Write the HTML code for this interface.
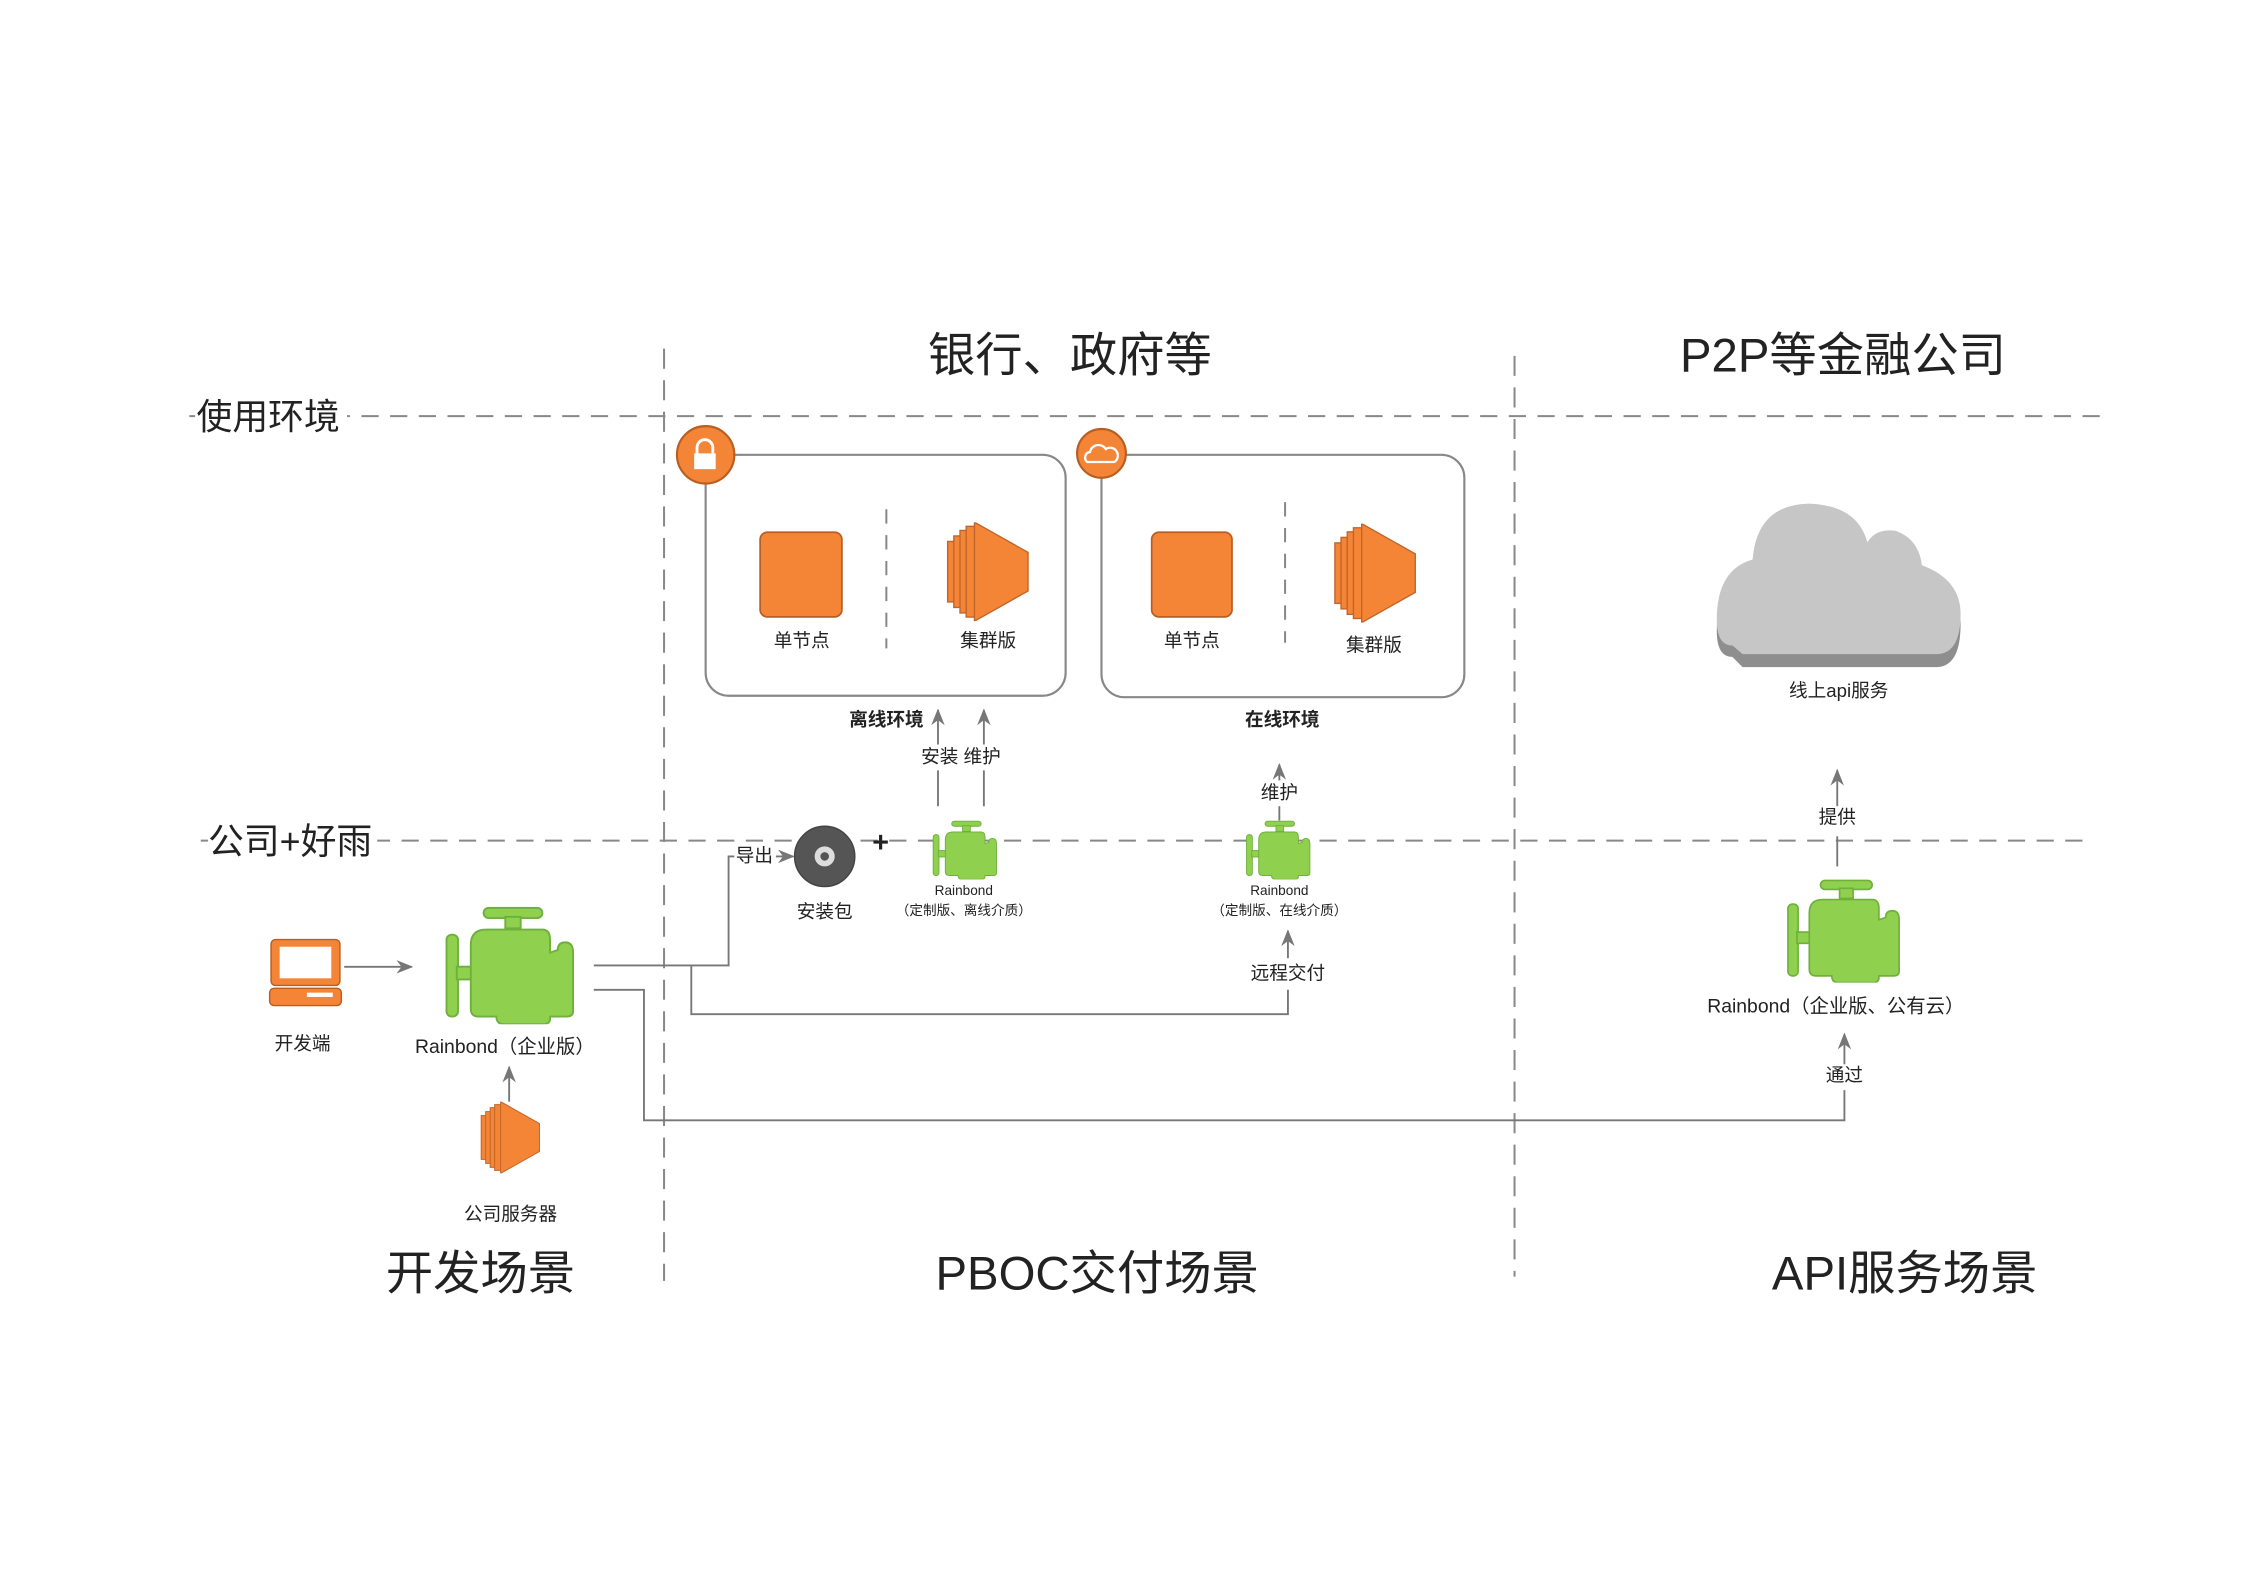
<!DOCTYPE html>
<html><head><meta charset="utf-8"><style>
html,body{margin:0;padding:0;background:#fff}
svg{display:block}
text{font-family:"Liberation Sans","Noto Sans CJK SC",sans-serif;fill:#222}
</style></head><body>
<svg width="2246" height="1588" viewBox="0 0 1566 1107" xmlns="http://www.w3.org/2000/svg">
<defs>
<symbol id="eng" viewBox="0 0 100 92">
 <g fill="#8fd14f" stroke="#6fb03c" stroke-width="1.5">
  <rect x="30" y="1" width="46" height="8" rx="4"/>
  <rect x="47" y="8" width="12" height="9"/>
  <rect x="1" y="22" width="9" height="64" rx="4"/>
  <rect x="9" y="47" width="12" height="10"/>
  <path d="M20,30 Q20,18 32,18 L76,18 Q82,18 82,26 L82,36 L88,34 Q88,28 94,28 Q100,28 100,36 L100,82 Q100,86 95,86 L82,86 L82,88 Q82,92 76,92 L46,92 Q40,92 40,86 L26,86 Q20,86 20,80 Z"/>
 </g>
</symbol>
<symbol id="clu" viewBox="0 0 60 72">
 <g fill="#f58536" stroke="#c0652a" stroke-width="1">
  <rect x="0.5" y="14" width="8" height="44"/>
  <rect x="5" y="10" width="8" height="52"/>
  <rect x="9.5" y="6" width="8" height="60"/>
  <rect x="14" y="3" width="8" height="66"/>
  <path d="M20,0 L59,22 L59,50 L20,72 Z"/>
 </g>
</symbol>
<marker id="ar" viewBox="0 0 10 10" refX="9" refY="5" markerWidth="9" markerHeight="9" orient="auto-start-reverse">
 <path d="M0,1 L10,5 L0,9 L3,5 Z" fill="#777"/>
</marker>
</defs>

<g stroke="#888" stroke-width="1.4" stroke-dasharray="12,8" fill="none">
 <line x1="132" y1="290" x2="1466" y2="290"/>
 <line x1="140" y1="586" x2="1460" y2="586"/>
 <line x1="463" y1="243" x2="463" y2="893" stroke-dasharray="14,8"/>
 <line x1="1056" y1="248" x2="1056" y2="890" stroke-dasharray="14,8"/>
 <line x1="618" y1="355" x2="618" y2="452" stroke-dasharray="10,8"/>
 <line x1="896" y1="350" x2="896" y2="448" stroke-dasharray="10,8"/>
</g>
<rect x="136" y="272" width="106" height="34" fill="#fff"/>
<text x="137" y="299" font-size="25">使用环境</text>
<rect x="145" y="568" width="118" height="34" fill="#fff"/>
<text x="145" y="595" font-size="25">公司+好雨</text>

<text x="746" y="259" font-size="33" text-anchor="middle">银行、政府等</text>
<text x="1285" y="259" font-size="33" text-anchor="middle">P2P等金融公司</text>
<text x="335" y="899" font-size="33" text-anchor="middle">开发场景</text>
<text x="765" y="899" font-size="33" text-anchor="middle">PBOC交付场景</text>
<text x="1328" y="899" font-size="33" text-anchor="middle">API服务场景</text>

<rect x="492" y="317" width="251" height="168" rx="16" fill="none" stroke="#888" stroke-width="1.5"/>
<rect x="768" y="317" width="253" height="169" rx="16" fill="none" stroke="#888" stroke-width="1.5"/>
<circle cx="492" cy="317" r="20" fill="#f58536" stroke="#b85e22" stroke-width="1.5"/>
<rect x="484" y="316" width="15" height="11" fill="#fff"/>
<path d="M486,316 v-4 a5.5,5.5 0 0 1 11,0 v4" fill="none" stroke="#fff" stroke-width="2"/>
<circle cx="768" cy="316" r="17" fill="#f58536" stroke="#b85e22" stroke-width="1.5"/>
<path d="M758,322 a4,4 0 0 1 2,-7 a6,6 0 0 1 11,-2 a5,5 0 0 1 6,9 Z" fill="none" stroke="#fff" stroke-width="1.6"/>

<rect x="530" y="371" width="57" height="59" rx="5" fill="#f58536" stroke="#b85e22" stroke-width="1.2"/>
<rect x="803" y="371" width="56" height="59" rx="5" fill="#f58536" stroke="#b85e22" stroke-width="1.2"/>
<use href="#clu" x="660" y="364" width="58" height="69"/>
<use href="#clu" x="930" y="365" width="58" height="69"/>

<g stroke="#777" stroke-width="1.3" fill="none">
 <line x1="654" y1="562" x2="654" y2="495" marker-end="url(#ar)"/>
 <line x1="686" y1="562" x2="686" y2="495" marker-end="url(#ar)"/>
 <line x1="892" y1="572" x2="892" y2="533" marker-end="url(#ar)"/>
 <line x1="898" y1="668" x2="898" y2="649" marker-end="url(#ar)"/>
 <polyline points="898,690 898,707 482,707 482,673"/>
 <polyline points="414,673 508,673 508,597 512,597"/>
 <line x1="541" y1="597" x2="553" y2="597" marker-end="url(#ar)"/>
 <polyline points="414,690 449,690 449,781 1286,781 1286,760"/>
 <line x1="1286" y1="742" x2="1286" y2="721" marker-end="url(#ar)"/>
 <line x1="1281" y1="604" x2="1281" y2="583"/>
 <line x1="1281" y1="562" x2="1281" y2="537" marker-end="url(#ar)"/>
 <line x1="240" y1="674" x2="287" y2="674" marker-end="url(#ar)"/>
 <line x1="355" y1="768" x2="355" y2="744" marker-end="url(#ar)"/>
</g>
<g fill="#fff">
 <rect x="638" y="519" width="64" height="18"/>
 <rect x="876" y="544" width="32" height="18"/>
</g>

<g font-size="13" text-anchor="middle">
 <text x="559" y="451">单节点</text>
 <text x="689" y="451">集群版</text>
 <text x="831" y="451">单节点</text>
 <text x="958" y="454">集群版</text>
 <text x="618" y="506" font-weight="bold">离线环境</text>
 <text x="894" y="506" font-weight="bold">在线环境</text>
 <text x="670" y="532">安装 维护</text>
 <text x="892" y="557">维护</text>
 <text x="575" y="640">安装包</text>
 <text x="898" y="683">远程交付</text>
 <text x="526" y="601">导出</text>
 <text x="211" y="732">开发端</text>
 <text x="356" y="851">公司服务器</text>
 <text x="1282" y="486">线上api服务</text>
 <text x="1281" y="574">提供</text>
 <text x="1286" y="754">通过</text>
 <text x="352" y="734" font-size="13.5">Rainbond（企业版）</text>
 <text x="1280" y="706" font-size="13.5">Rainbond（企业版、公有云）</text>
 <g font-size="9.5">
  <text x="672" y="624">Rainbond</text>
  <text x="672" y="638">（定制版、离线介质）</text>
  <text x="892" y="624">Rainbond</text>
  <text x="892" y="638">（定制版、在线介质）</text>
 </g>
</g>
<text x="614" y="594" font-size="20" font-weight="bold" text-anchor="middle">+</text>

<circle cx="575" cy="597" r="21" fill="#555" stroke="#444"/>
<circle cx="575" cy="597" r="7" fill="#ddd"/>
<circle cx="575" cy="597" r="3" fill="#555"/>

<use href="#eng" x="296" y="632" width="118" height="82"/>
<use href="#eng" x="643" y="572" width="59" height="41"/>
<use href="#eng" x="861" y="572" width="60" height="41"/>
<use href="#eng" x="1232" y="613" width="106" height="72"/>

<rect x="189" y="655" width="48" height="32" rx="3" fill="#f58536" stroke="#b85e22"/>
<rect x="195" y="660" width="36" height="22" fill="#fff"/>
<rect x="188" y="689" width="50" height="12" rx="3" fill="#f58536" stroke="#b85e22"/>
<rect x="214" y="692" width="18" height="3" fill="#fff"/>

<use href="#clu" x="335" y="768" width="42" height="50"/>

<path d="M1208,458 Q1197,458 1197,440 Q1197,405 1222,398 Q1225,353 1261,352 Q1295,353 1302,382 Q1308,372 1322,374 Q1338,380 1340,398 Q1367,408 1367,435 Q1367,465 1350,465 L1215,465 Z" fill="#8e8e8e"/>
<path d="M1208,450 Q1197,450 1197,432 Q1197,397 1222,390 Q1225,352 1261,351 Q1295,352 1302,378 Q1308,368 1322,370 Q1338,376 1340,394 Q1367,404 1367,428 Q1367,456 1350,456 L1215,456 Z" fill="#c6c6c6"/>
</svg>
</body></html>
